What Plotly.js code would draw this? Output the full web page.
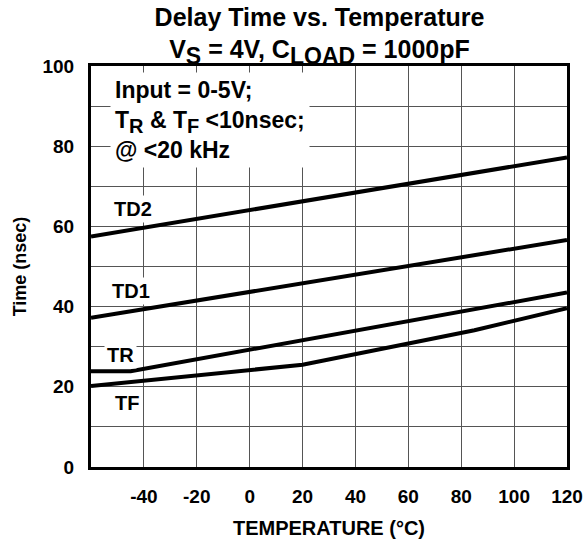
<!DOCTYPE html>
<html>
<head>
<meta charset="utf-8">
<script src="https://cdn.plot.ly/plotly-3.0.1.min.js"></script>
<style>html,body{margin:0;padding:0;background:#fff;}#chart{width:587px;height:541px;}</style>
</head>
<body>
<div id="chart"></div>
<script>
// Temperature (°C) and delay times (nsec)
const td2Temp = [-60, 120];
const td2Time = [57.5, 77.2];
const td1Temp = [-60, 120];
const td1Time = [37.2, 56.6];
const trTemp = [-60, -45, 120];
const trTime = [23.9, 23.9, 43.5];
const tfTemp = [-60, 20, 85, 120];
const tfTime = [20.2, 25.5, 34.1, 39.6];

const xTickVals = [-40, -20, 0, 20, 40, 60, 80, 100, 120];
const xTickText = ['-40', '-20', '0', '20', '40', '60', '80', '100', '120'];
const yTickVals = [0, 20, 40, 60, 80, 100];
const yTickText = ['0', '20', '40', '60', '80', '100'];

const curveLabels = ['TD2', 'TD1', 'TR', 'TF'];
const labelTemp = [-44.1, -44.7, -48.8, -46.4];
const labelTime = [64.4, 44.0, 28.0, 15.9];

const FONT = 'Liberation Sans, Arial, Helvetica, sans-serif';
const lineStyle = {color: '#000', width: 4};

const traces = [
  {x: td2Temp, y: td2Time, name: 'TD2'},
  {x: td1Temp, y: td1Time, name: 'TD1'},
  {x: trTemp, y: trTime, name: 'TR'},
  {x: tfTemp, y: tfTime, name: 'TF'}
].map(t => Object.assign(t, {type: 'scatter', mode: 'lines', line: lineStyle, hoverinfo: 'skip'}));

const annotations = curveLabels.map((txt, i) => ({
  x: labelTemp[i], y: labelTime[i], xref: 'x', yref: 'y',
  text: '<b>' + txt + '</b>', showarrow: false,
  font: {family: FONT, size: 20, color: '#000'},
  bgcolor: '#fff', borderpad: 2
}));

const sub = (s, px) => '<sub><span style="font-size:' + px + 'px">' + s + '</span></sub>';

annotations.push({
  x: -53, y: 98.5, xref: 'x', yref: 'y', xanchor: 'left', yanchor: 'top', align: 'left',
  text: '<b>Input = 0-5V;<br>T' + sub('R', 20) + ' &amp; T' + sub('F', 20) + ' &lt;10nsec;<br>@ &lt;20 kHz</b>',
  showarrow: false, font: {family: FONT, size: 23, color: '#000'},
  bgcolor: '#fff', borderpad: 4
});

const layout = {
  width: 587, height: 541,
  margin: {l: 91, r: 20, t: 66, b: 74},
  paper_bgcolor: '#fff', plot_bgcolor: '#fff',
  showlegend: false,
  font: {family: FONT, color: '#000'},
  title: {
    text: '<b>Delay Time vs. Temperature<br>V' + sub('S', 23) + ' = 4V, C' + sub('LOAD', 23) + ' = 1000pF</b>',
    font: {family: FONT, size: 25, color: '#000'},
    xref: 'paper', x: 0.48, xanchor: 'center',
    yref: 'container', y: 0.952, yanchor: 'top'
  },
  xaxis: {
    range: [-60, 120], tickmode: 'array', tickvals: xTickVals, ticktext: xTickText,
    showgrid: true, gridcolor: '#555', gridwidth: 1, zeroline: false,
    showline: true, linecolor: '#000', linewidth: 3, mirror: true,
    ticks: '', ticklabelstandoff: 10,
    tickfont: {family: FONT, size: 19, color: '#000', weight: 'bold'},
    title: {text: '<b>TEMPERATURE (°C)</b>', font: {family: FONT, size: 20, color: '#000'}, standoff: 16}
  },
  yaxis: {
    range: [0, 100], tickmode: 'array', tickvals: yTickVals, ticktext: yTickText,
    showgrid: true, gridcolor: '#555', gridwidth: 1, zeroline: false,
    minor: {dtick: 10, showgrid: true, gridcolor: '#555', gridwidth: 1, ticks: ''},
    showline: true, linecolor: '#000', linewidth: 3, mirror: true,
    ticks: '', ticklabelstandoff: 10,
    tickfont: {family: FONT, size: 19, color: '#000', weight: 'bold'},
    title: {text: '<b>Time (nsec)</b>', font: {family: FONT, size: 18, color: '#000'}, standoff: 12}
  },
  annotations: annotations
};

Plotly.newPlot('chart', traces, layout, {staticPlot: true, displayModeBar: false});
</script>
</body>
</html>
